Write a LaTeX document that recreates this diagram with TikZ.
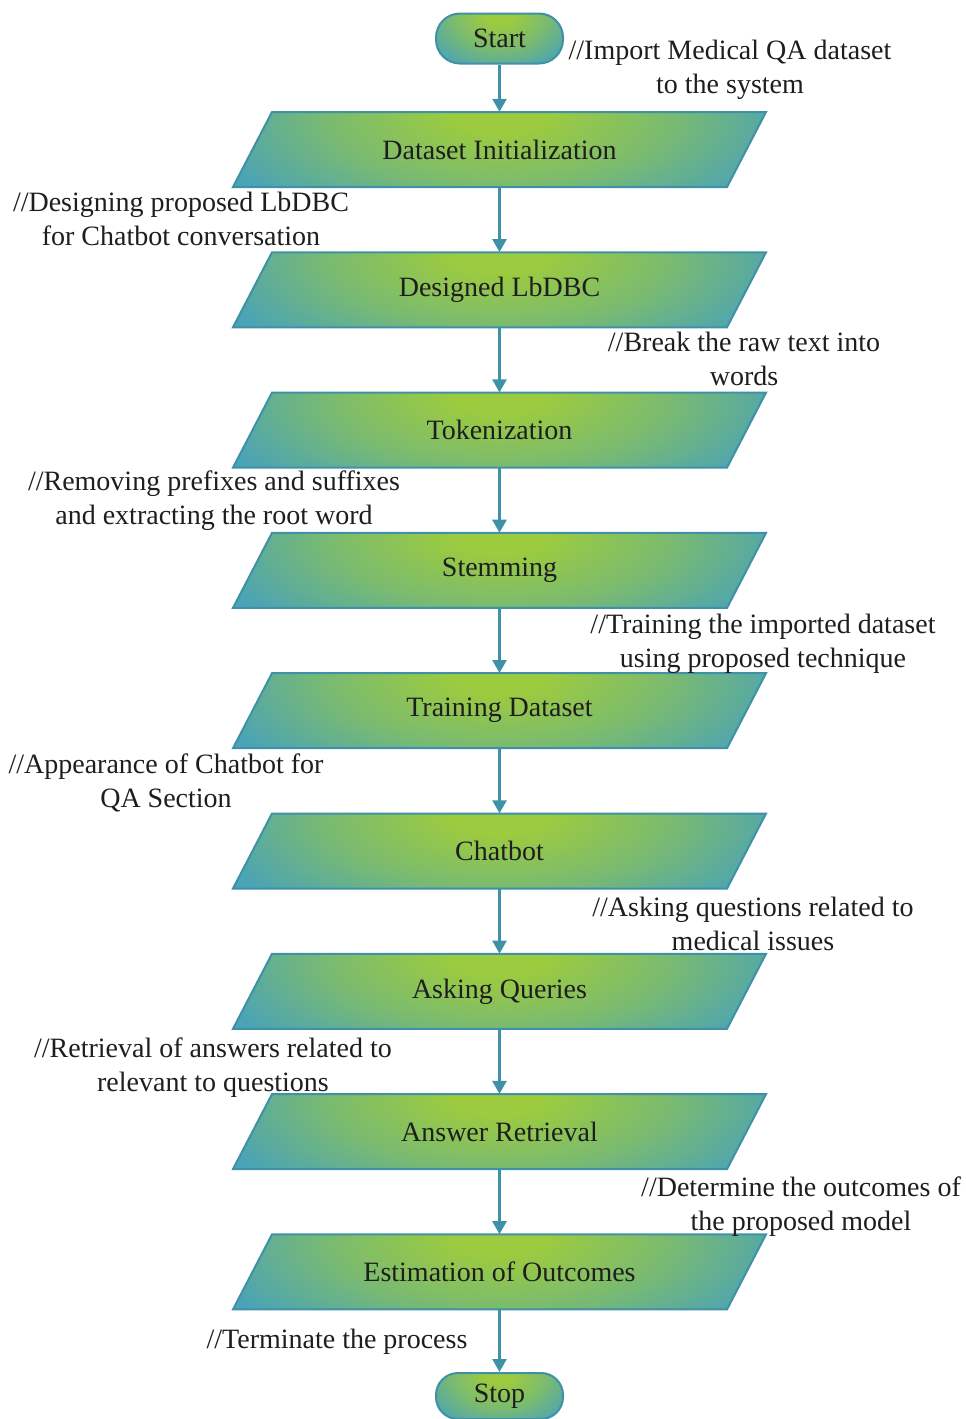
\documentclass[tikz,border=0pt]{standalone}
\usepackage{fontspec}
\setmainfont{Liberation Serif}
\usetikzlibrary{arrows.meta}
\definecolor{gin}{HTML}{9CCB3F}
\definecolor{gout}{HTML}{4AA3B6}
\definecolor{bord}{HTML}{3F91A8}
\definecolor{txt}{HTML}{1E1E1E}
\pgfdeclareradialshading{rshade}{\pgfpoint{0bp}{0bp}}{color(0bp)=(gin); color(4bp)=(gin); color(14bp)=(gin!60!gout); color(25bp)=(gout); color(50bp)=(gout)}
\newcommand\pbox[3]{%
  \begin{scope}
  \clip (272,#2-37.5) -- (766,#2-37.5) -- (727,#2+37.5) -- (233,#2+37.5) -- cycle;
  \shade[shading=rshade] (199.5,#2-167.5) rectangle (799.5,#2+92.5);
  \end{scope}
  \draw[bord, line width=2pt, line join=miter]
    (272,#2-37.5) -- (766,#2-37.5) -- (727,#2+37.5) -- (233,#2+37.5) -- cycle;
  \node[boxtext] (#1) at (499.5,#2) {#3};}
\newcommand\cmt[4]{\node[note] (#1) at (#2,#3) {\begin{tabular}[t]{@{}c@{}}#4\end{tabular}};}
\begin{document}
\begin{tikzpicture}[x=1pt,y=-1pt,
  lbl/.style={font=\fontsize{28}{34}\selectfont, text=txt, inner sep=0pt},
  boxtext/.style={lbl, minimum width=494pt, minimum height=75pt},
  term/.style={lbl, draw=bord, line width=2pt, rounded corners=24pt, minimum width=127pt, minimum height=50pt,
    path picture={\shade[shading=rshade] ([xshift=-85pt,yshift=62pt]path picture bounding box.north) rectangle ([xshift=85pt,yshift=-62pt]path picture bounding box.north);}},
  flow/.style={draw=bord, line width=2.5pt, -{Triangle[length=13pt,width=14pt]}},
  note/.style={lbl, anchor=base}]
\useasboundingbox (0,0) rectangle (966,1419);
\fill[white] (0,0) rectangle (966,1419);

\node[term] (start) at (499.5,38.5) {Start};
\pbox{b1}{149.5}{Dataset Initialization}
\pbox{b2}{289.8}{Designed LbDBC}
\pbox{b3}{430.1}{Tokenization}
\pbox{b4}{570.4}{Stemming}
\pbox{b5}{710.7}{Training Dataset}
\pbox{b6}{851}{Chatbot}
\pbox{b7}{991.3}{Asking Queries}
\pbox{b8}{1131.6}{Answer Retrieval}
\pbox{b9}{1271.9}{Estimation of Outcomes}
\node[term, minimum height=46pt, rounded corners=22pt] (stop) at (499.5,1396) {Stop};

\draw[flow] (start) -- (b1);
\draw[flow] (b1) -- (b2);
\draw[flow] (b2) -- (b3);
\draw[flow] (b3) -- (b4);
\draw[flow] (b4) -- (b5);
\draw[flow] (b5) -- (b6);
\draw[flow] (b6) -- (b7);
\draw[flow] (b7) -- (b8);
\draw[flow] (b8) -- (b9);
\draw[flow] (b9) -- (stop);

\cmt{c1}{730}{59}{//Import Medical QA dataset\\to the system}
\cmt{c2}{181}{211}{//Designing proposed LbDBC\\for Chatbot conversation}
\cmt{c3}{744}{351}{//Break the raw text into\\words}
\cmt{c4}{214}{490}{//Removing prefixes and suffixes\\and extracting the root word}
\cmt{c5}{763}{633}{//Training the imported dataset\\using proposed technique}
\cmt{c6}{166}{773}{//Appearance of Chatbot for\\QA Section}
\cmt{c7}{753}{916}{//Asking questions related to\\medical issues}
\cmt{c8}{213}{1057}{//Retrieval of answers related to\\relevant to questions}
\cmt{c9}{801}{1196}{//Determine the outcomes of\\the proposed model}
\cmt{c10}{337}{1348}{//Terminate the process}
\end{tikzpicture}
\end{document}
